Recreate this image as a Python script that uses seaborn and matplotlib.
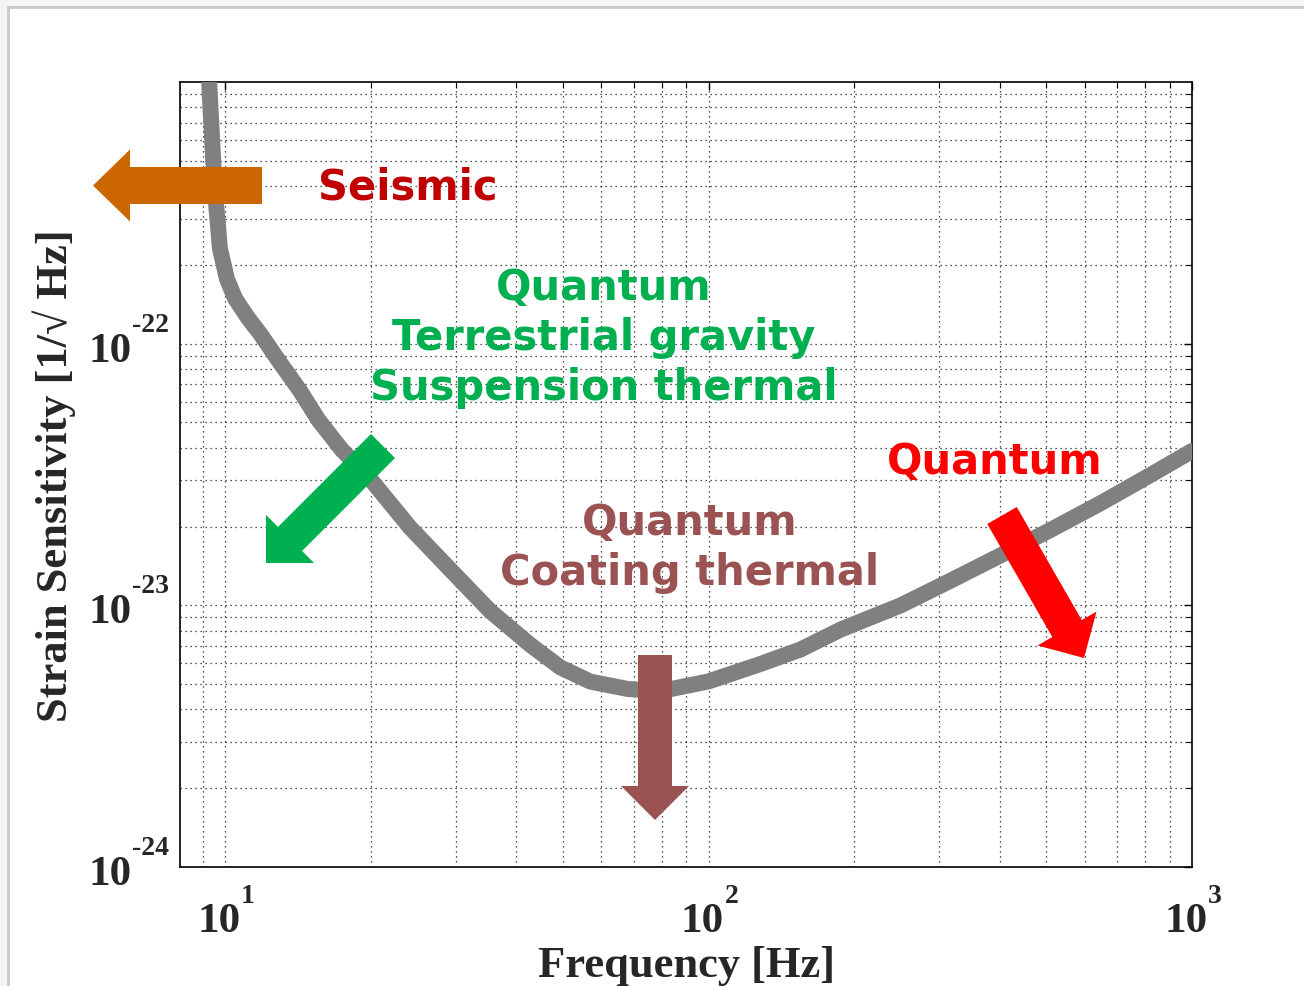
import matplotlib
matplotlib.use("Agg")
import matplotlib.pyplot as plt
import seaborn as sns
import numpy as np
import pandas as pd
from matplotlib.patches import FancyArrow, Rectangle
from matplotlib.transforms import IdentityTransform
from matplotlib.ticker import NullFormatter, LogLocator

# ---- data ----
freq = [9.27, 9.51, 9.76, 10.09, 10.49, 11.17, 11.82, 13.00, 14.30, 15.60,
        17.44, 19.97, 24.15, 29.23, 35.37, 42.80, 49.39, 56.99, 68.10, 79.62,
        100.0, 128.1, 155.0, 187.6, 249.8, 316.0, 402.3, 512.0, 648.0, 806.0,
        1000.0]
sens = [1.01e-21, 4.03e-22, 2.31e-22, 1.77e-22, 1.488e-22, 1.25e-22, 1.092e-22,
        8.45e-23, 6.60e-23, 5.11e-23, 3.93e-23, 3.04e-23, 1.98e-23, 1.37e-23,
        9.5e-24, 7.06e-24, 5.79e-24, 5.11e-24, 4.79e-24, 4.70e-24,
        5.12e-24, 5.97e-24, 6.78e-24, 8.08e-24, 1.00e-23, 1.24e-23,
        1.554e-23, 1.95e-23, 2.46e-23, 3.09e-23, 3.89e-23]
x_ticks = [10, 100, 1000]
x_exponents = ["1", "2", "3"]
y_ticks = [1e-24, 1e-23, 1e-22]
y_exponents = ["-24", "-23", "-22"]

labels = ["Seismic", "Quantum\nTerrestrial gravity\nSuspension thermal",
          "Quantum", "Quantum\nCoating thermal"]
label_colors = ["#C00000", "#00B050", "#FF0000", "#9B5252"]
label_pos = [(408, 187), (604, 338), (995, 462), (690, 548)]   # image pixels

arrow_tail = [(262, 186.5), (383, 447), (1002, 516.5), (655, 656)]
arrow_tip = [(93, 186.5), (266, 564), (1084, 659), (655, 821)]
arrow_colors = ["#CC6600", "#00B050", "#FF0000", "#9B5252"]
arrow_width = [37, 34, 34, 34]
arrow_head_w = [72, 68, 68, 68]
arrow_head_l = [37, 34, 34, 34]

W, H = 1304, 987

sns.set_style("white")
plt.rcParams['font.family'] = ['DejaVu Sans']

fig = plt.figure(figsize=(W / 100, H / 100), dpi=100, facecolor="#F4F4F4")
fig.patches.append(Rectangle((8 / W, -0.02), 1.1, (H - 8) / H + 0.02,
                             transform=fig.transFigure, facecolor="white",
                             edgecolor="#C8C8C8", lw=2, zorder=-10))
ax = fig.add_axes([180 / W, (H - 868) / H, (1192 - 180) / W, (868 - 83) / H])

df = pd.DataFrame({"freq": freq, "sens": sens})
sns.lineplot(data=df, x="freq", y="sens", ax=ax, color="#808080", lw=11.5,
             estimator=None, sort=False, zorder=3)

ax.set_xscale("log")
ax.set_yscale("log")
ax.set_xlim(8.07, 1000)
ax.set_ylim(1e-24, 1e-21)

ax.set_xticks(x_ticks)
ax.set_yticks(y_ticks)
ax.xaxis.set_minor_locator(LogLocator(base=10, subs=np.arange(2, 10)))
ax.yaxis.set_minor_locator(LogLocator(base=10, subs=np.arange(2, 10)))
for axis in (ax.xaxis, ax.yaxis):
    axis.set_major_formatter(NullFormatter())
    axis.set_minor_formatter(NullFormatter())
ax.tick_params(which="both", direction="in", top=True, right=True, color="black")
ax.tick_params(which="major", length=6, width=1.0)
ax.tick_params(which="minor", length=4, width=0.8)

ax.grid(True, which="both", linestyle=(0, (1, 3)), color="0.1", lw=0.9)
for s in ax.spines.values():
    s.set_linewidth(1.2)
    s.set_color("black")

serif = ['Liberation Serif', 'DejaVu Serif']
base_kw = dict(family=serif, weight='bold', size=31, ha='left', va='baseline',
               textcoords='offset pixels', annotation_clip=False)
sup_kw = dict(base_kw, size=20)
for v, e in zip(y_ticks, y_exponents):
    ax.annotate("10", xy=(0, v), xycoords=('axes fraction', 'data'),
                xytext=(-91, -17), **base_kw)
    ax.annotate(e, xy=(0, v), xycoords=('axes fraction', 'data'),
                xytext=(-48, 13), **sup_kw)
for v, e in zip(x_ticks, x_exponents):
    ax.annotate("10", xy=(v, 0), xycoords=('data', 'axes fraction'),
                xytext=(-28, -64), **base_kw)
    ax.annotate(e, xy=(v, 0), xycoords=('data', 'axes fraction'),
                xytext=(16, -35), **sup_kw)

lab_font = dict(family=serif, weight='bold', size=32)
ax.set_xlabel("Frequency [Hz]", **lab_font)
ax.set_ylabel("Strain Sensitivity [1/\u221a Hz]", **lab_font)
ax.xaxis.set_label_coords(0.5, -(946 - 868) / (868 - 83))
ax.yaxis.set_label_coords(-(180 - 76) / (1192 - 180), 0.5)

for t, c, (px, py) in zip(labels, label_colors, label_pos):
    fig.text(px / W, 1 - py / H, t, color=c, fontsize=30, fontweight="bold",
             family="DejaVu Sans", ha="center", va="center",
             linespacing=1.23, multialignment="center", zorder=6)

for (tx, ty), (hx, hy), c, w, hw, hl in zip(arrow_tail, arrow_tip, arrow_colors,
                                          arrow_width, arrow_head_w, arrow_head_l):
    arr = FancyArrow(tx, H - ty, hx - tx, -(hy - ty), width=w, head_width=hw,
                     head_length=hl, length_includes_head=True, color=c, lw=0,
                     transform=IdentityTransform(), zorder=7)
    arr.set_clip_on(False)
    fig.patches.append(arr)

fig.savefig("out.png", dpi=100, facecolor=fig.get_facecolor())
